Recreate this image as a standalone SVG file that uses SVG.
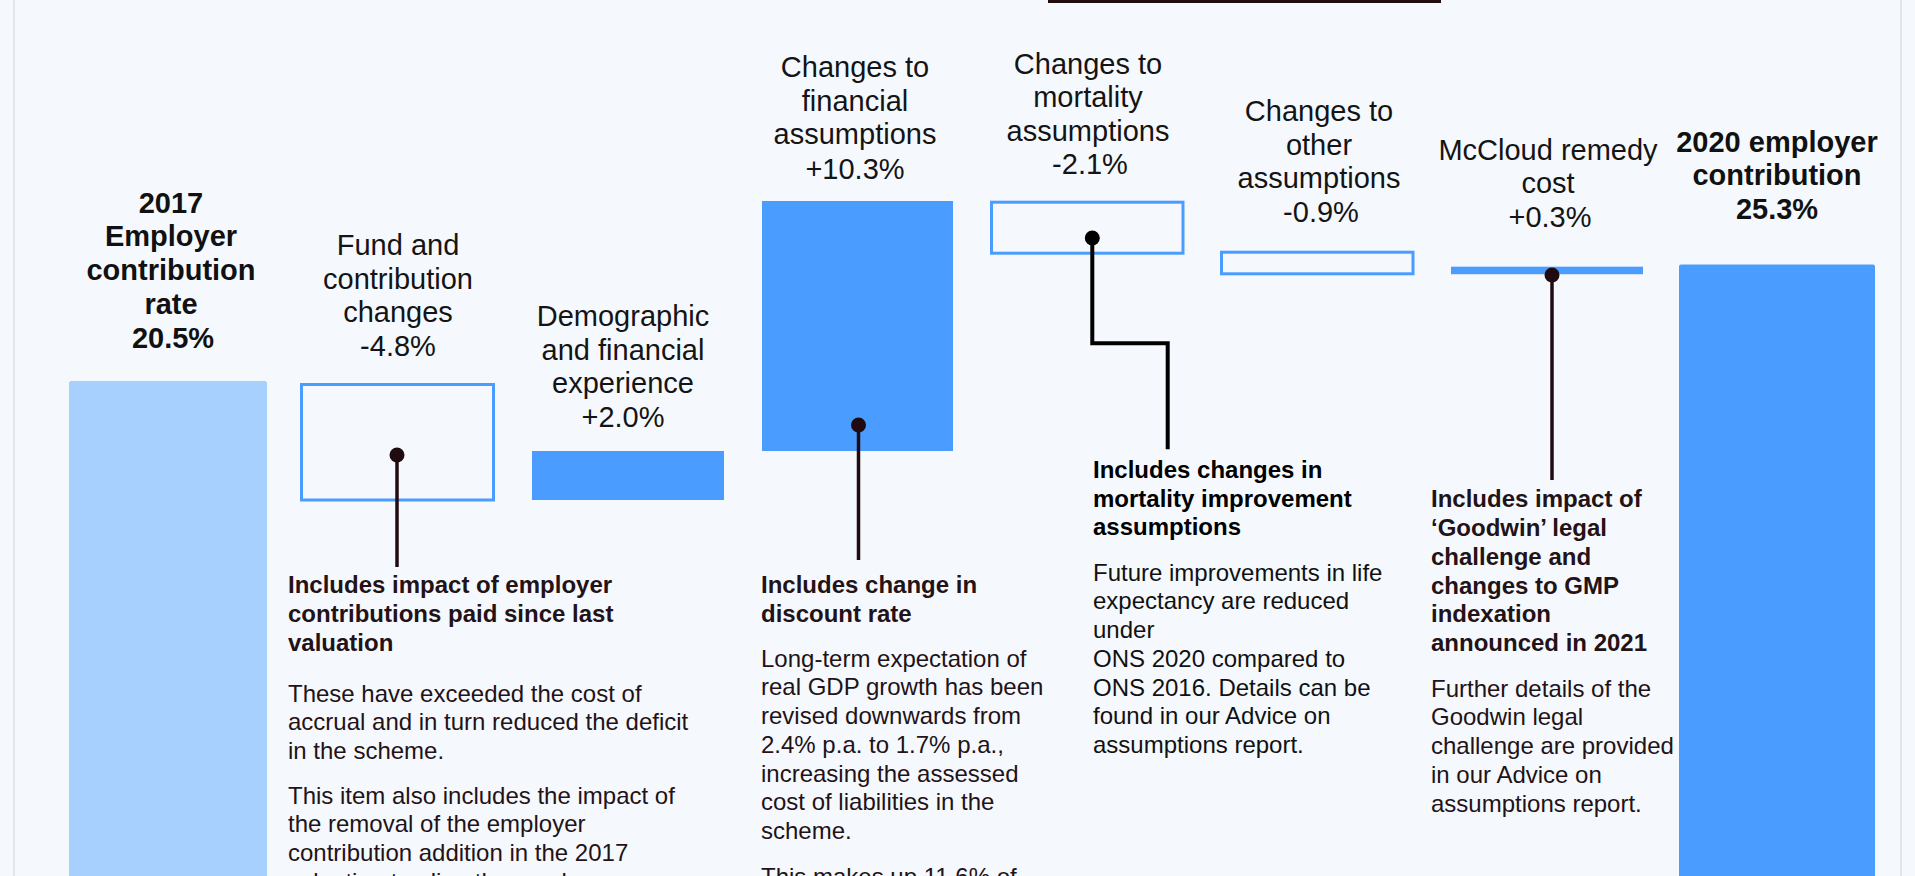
<svg xmlns="http://www.w3.org/2000/svg" width="1915" height="876" viewBox="0 0 1915 876">
<defs>
<style>
.bg{fill:#f5f9fe}
.frame{stroke:#e2e6eb;stroke-width:2;fill:none}
.bar{fill:#4a9dff}
.bar0{fill:#a8d0fe}
.box{fill:none;stroke:#4a9dff;stroke-width:3}
.lbl{font-family:"Liberation Sans",Arial,sans-serif;font-size:29px;fill:#141414;text-anchor:middle}
.lblb{font-family:"Liberation Sans",Arial,sans-serif;font-size:29px;font-weight:bold;fill:#111;text-anchor:middle}
.hd{font-family:"Liberation Sans",Arial,sans-serif;font-size:24px;font-weight:bold;fill:#231216}
.bd{font-family:"Liberation Sans",Arial,sans-serif;font-size:24px;fill:#231216}
.hdk{fill:#000}
.bdk{fill:#111}
.ln{stroke:#200c10;stroke-width:3.5;fill:none}
.lnk{stroke:#000;stroke-width:4;fill:none}
.dot{fill:#200c10}
.dotk{fill:#000}
</style>
</defs>
<rect class="bg" x="0" y="0" width="1915" height="876"/>
<line class="frame" x1="14" y1="0" x2="14" y2="876"/>
<line class="frame" x1="1901" y1="0" x2="1901" y2="876"/>
<rect x="1048" y="0" width="393" height="3" fill="#230c10"/>

<g id="node-2017">
<rect class="bar0" x="69" y="381" width="198" height="520" rx="2"/>
<text class="lblb" x="171" y="212.5">2017</text>
<text class="lblb" x="171" y="246.3">Employer</text>
<text class="lblb" x="171" y="280">contribution</text>
<text class="lblb" x="171" y="313.8">rate</text>
<text class="lblb" x="173" y="347.5">20.5%</text>
</g>

<g id="node-fund">
<rect class="box" x="301.5" y="384.5" width="192" height="115.5"/>
<text class="lbl" x="398" y="255">Fund and</text>
<text class="lbl" x="398" y="288.6">contribution</text>
<text class="lbl" x="398" y="322.2">changes</text>
<text class="lbl" x="398" y="356">-4.8%</text>
</g>

<g id="node-demographic">
<rect class="bar" x="532" y="451" width="192" height="49"/>
<text class="lbl" x="623" y="326">Demographic</text>
<text class="lbl" x="623" y="359.7">and financial</text>
<text class="lbl" x="623" y="393.4">experience</text>
<text class="lbl" x="623" y="427">+2.0%</text>
</g>

<g id="node-financial">
<rect class="bar" x="762" y="201" width="191" height="250"/>
<text class="lbl" x="855" y="77">Changes to</text>
<text class="lbl" x="855" y="110.7">financial</text>
<text class="lbl" x="855" y="144.4">assumptions</text>
<text class="lbl" x="855" y="178.5">+10.3%</text>
</g>

<g id="node-mortality">
<rect class="box" x="991.5" y="202.2" width="191.5" height="51"/>
<text class="lbl" x="1088" y="74">Changes to</text>
<text class="lbl" x="1088" y="107.3">mortality</text>
<text class="lbl" x="1088" y="140.6">assumptions</text>
<text class="lbl" x="1090" y="174">-2.1%</text>
</g>

<g id="node-other">
<rect class="box" x="1221.5" y="252.2" width="191.5" height="21.6"/>
<text class="lbl" x="1319" y="121">Changes to</text>
<text class="lbl" x="1319" y="154.5">other</text>
<text class="lbl" x="1319" y="188">assumptions</text>
<text class="lbl" x="1321" y="222">-0.9%</text>
</g>

<g id="node-mccloud">
<rect class="bar" x="1451" y="266.7" width="192" height="7.5"/>
<text class="lbl" x="1548" y="159.5">McCloud remedy</text>
<text class="lbl" x="1548" y="193">cost</text>
<text class="lbl" x="1550" y="226.5">+0.3%</text>
</g>

<g id="node-2020">
<rect class="bar" x="1679" y="264.5" width="196" height="640" rx="2"/>
<text class="lblb" x="1777" y="151.5">2020 employer</text>
<text class="lblb" x="1777" y="185">contribution</text>
<text class="lblb" x="1777" y="218.5">25.3%</text>
</g>

<g id="connectors">
<line class="ln" x1="397" y1="455" x2="397" y2="567"/>
<circle class="dot" cx="397" cy="455" r="7.5"/>
<line class="ln" x1="858.5" y1="425" x2="858.5" y2="560"/>
<circle class="dot" cx="858.5" cy="425" r="7.5"/>
<path class="lnk" d="M1092.3 238 V343.3 H1167.7 V449.3"/>
<circle class="dotk" cx="1092.3" cy="238" r="7.5"/>
<line class="ln" x1="1552" y1="275" x2="1552" y2="480"/>
<circle class="dot" cx="1552" cy="275" r="7.5"/>
</g>

<g id="note-fund">
<text class="hd" x="288" y="592.7">Includes impact of employer</text>
<text class="hd" x="288" y="621.6">contributions paid since last</text>
<text class="hd" x="288" y="650.5">valuation</text>
<text class="bd" x="288" y="701.7">These have exceeded the cost of</text>
<text class="bd" x="288" y="730.4">accrual and in turn reduced the deficit</text>
<text class="bd" x="288" y="759.1">in the scheme.</text>
<text class="bd" x="288" y="803.5">This item also includes the impact of</text>
<text class="bd" x="288" y="832.3">the removal of the employer</text>
<text class="bd" x="288" y="861.2">contribution addition in the 2017</text>
<text class="bd" x="288" y="890">valuation to align the employer</text>
</g>

<g id="note-financial">
<text class="hd" x="761" y="593.3">Includes change in</text>
<text class="hd" x="761" y="621.8">discount rate</text>
<text class="bd" x="761" y="666.7">Long-term expectation of</text>
<text class="bd" x="761" y="695.4">real GDP growth has been</text>
<text class="bd" x="761" y="724.1">revised downwards from</text>
<text class="bd" x="761" y="752.8">2.4% p.a. to 1.7% p.a.,</text>
<text class="bd" x="761" y="781.5">increasing the assessed</text>
<text class="bd" x="761" y="810.2">cost of liabilities in the</text>
<text class="bd" x="761" y="838.9">scheme.</text>
<text class="bd" x="761" y="885">This makes up 11.6% of</text>
</g>

<g id="note-mortality">
<text class="hd hdk" x="1093" y="478.3">Includes changes in</text>
<text class="hd hdk" x="1093" y="506.8">mortality improvement</text>
<text class="hd hdk" x="1093" y="535.3">assumptions</text>
<text class="bd bdk" x="1093" y="580.7">Future improvements in life</text>
<text class="bd bdk" x="1093" y="609.4">expectancy are reduced</text>
<text class="bd bdk" x="1093" y="638.1">under</text>
<text class="bd bdk" x="1093" y="666.8">ONS 2020 compared to</text>
<text class="bd bdk" x="1093" y="695.5">ONS 2016. Details can be</text>
<text class="bd bdk" x="1093" y="724.2">found in our Advice on</text>
<text class="bd bdk" x="1093" y="752.9">assumptions report.</text>
</g>

<g id="note-mccloud">
<text class="hd" x="1431" y="507.3">Includes impact of</text>
<text class="hd" x="1431" y="536">‘Goodwin’ legal</text>
<text class="hd" x="1431" y="564.8">challenge and</text>
<text class="hd" x="1431" y="593.5">changes to GMP</text>
<text class="hd" x="1431" y="622.1">indexation</text>
<text class="hd" x="1431" y="650.8">announced in 2021</text>
<text class="bd" x="1431" y="696.7">Further details of the</text>
<text class="bd" x="1431" y="725.4">Goodwin legal</text>
<text class="bd" x="1431" y="754.1">challenge are provided</text>
<text class="bd" x="1431" y="782.8">in our Advice on</text>
<text class="bd" x="1431" y="811.5">assumptions report.</text>
</g>
</svg>
